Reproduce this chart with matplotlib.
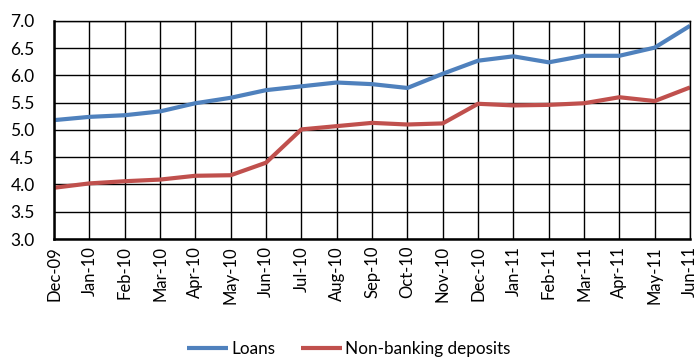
import matplotlib
matplotlib.use("Agg")
from matplotlib import pyplot as plt
import numpy as np

months = ["Dec-09", "Jan-10", "Feb-10", "Mar-10", "Apr-10", "May-10", "Jun-10",
          "Jul-10", "Aug-10", "Sep-10", "Oct-10", "Nov-10", "Dec-10", "Jan-11",
          "Feb-11", "Mar-11", "Apr-11", "May-11", "Jun-11"]

loans = [5.18, 5.24, 5.27, 5.34, 5.49, 5.59, 5.73, 5.80, 5.87, 5.84, 5.77,
         6.03, 6.27, 6.35, 6.24, 6.36, 6.36, 6.51, 6.91]

deposits = [3.94, 4.02, 4.06, 4.09, 4.16, 4.17, 4.40, 5.01, 5.07, 5.13, 5.10,
            5.12, 5.48, 5.45, 5.46, 5.49, 5.60, 5.53, 5.78]

plt.rcParams['font.family'] = ['Lato', 'DejaVu Sans']

fig = plt.figure(figsize=(6.97, 3.6), dpi=100)
ax = fig.add_axes([0.0775, 0.336, 0.9125, 0.606])

x = np.arange(len(months))
ax.plot(x, loans, color='#4F81BD', lw=3, label='Loans', solid_capstyle='butt')
ax.plot(x, deposits, color='#C0504D', lw=3, label='Non-banking deposits', solid_capstyle='butt')

ax.set_xlim(0, len(months) - 1)
ax.set_ylim(3.0, 7.0)
yt = np.arange(3.0, 7.01, 0.5)
ax.set_yticks(yt)
ax.set_yticklabels(["%.1f" % v for v in yt], fontsize=12.5)
ax.set_xticks(x)
ax.set_xticklabels(months, rotation=90, fontsize=12)
ax.tick_params(axis='y', length=0, pad=14)
ax.tick_params(axis='x', length=0, pad=5)

ax.grid(True, color='black', lw=1)
ax.set_axisbelow(True)
for s in ax.spines.values():
    s.set_color('black')
    s.set_linewidth(1)
ax.spines['left'].set_linewidth(1.8)
ax.spines['bottom'].set_linewidth(1.8)

fig.legend(loc='center', bbox_to_anchor=(0.5, 0.03), ncol=2, frameon=False,
           fontsize=12.3, handlelength=2.4, handletextpad=0.2, columnspacing=1.5)

fig.savefig('out.png', dpi=100)
